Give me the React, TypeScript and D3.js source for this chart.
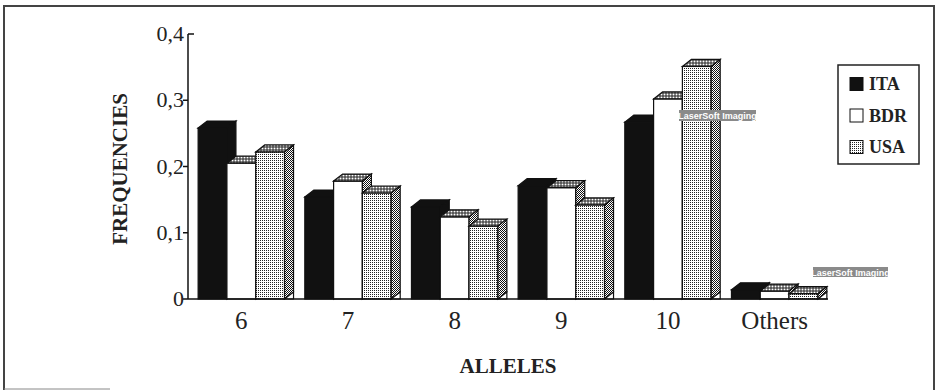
import React from "react";
import * as d3 from "d3";

const categories = ["6", "7", "8", "9", "10", "Others"];
const seriesNames = ["ITA", "BDR", "USA"];
const ITA = [0.258, 0.154, 0.139, 0.171, 0.267, 0.014];
const BDR = [0.205, 0.178, 0.124, 0.168, 0.302, 0.012];
const USA = [0.222, 0.16, 0.11, 0.142, 0.351, 0.008];
const yTicks = [0, 0.1, 0.2, 0.3, 0.4];
const yTickLabels = ["0", "0,1", "0,2", "0,3", "0,4"];

const W = 938;
const H = 392;
const DX = 9;
const DY = 7;
const SERIF = "'Liberation Serif', 'Times New Roman', serif";

export default function App() {
  const x0 = d3
    .scaleBand<string>()
    .domain(categories)
    .range([188, 828])
    .paddingInner(0.19)
    .paddingOuter(0.095);
  const x1 = d3
    .scaleBand<string>()
    .domain(seriesNames)
    .range([0, x0.bandwidth()])
    .padding(0);
  const y = d3.scaleLinear().domain([0, 0.4]).range([299, 34]);
  const data = [ITA, BDR, USA];
  const faces: Record<string, { front: string; top: string; side: string }> = {
    ITA: { front: "#111", top: "#111", side: "#111" },
    BDR: { front: "#fff", top: "url(#dots)", side: "url(#checker)" },
    USA: { front: "url(#fine)", top: "url(#dots)", side: "url(#checker)" },
  };
  const base = y(0);

  const bars: React.ReactNode[] = [];
  categories.forEach((c, ci) => {
    seriesNames.forEach((s, si) => {
      const v = data[si][ci];
      const xl = (x0(c) as number) + (x1(s) as number);
      const xr = xl + x1.bandwidth();
      const yt = y(v);
      const f = faces[s];
      const stroke = "#111";
      bars.push(
        <g key={c + s}>
          <rect x={xl} y={yt} width={xr - xl} height={base - yt} fill={f.front} stroke={stroke} strokeWidth={1.2} />
          <polygon
            points={`${xl},${yt} ${xl + DX},${yt - DY} ${xr + DX},${yt - DY} ${xr},${yt}`}
            fill={f.top}
            stroke={stroke}
            strokeWidth={1.2}
          />
          <polygon
            points={`${xr},${yt} ${xr + DX},${yt - DY} ${xr + DX},${base - DY} ${xr},${base}`}
            fill={f.side}
            stroke={stroke}
            strokeWidth={1.2}
          />
          {si === seriesNames.length - 1 && (
            <polygon
              points={`${xr},${base} ${xr + DX},${base - DY} ${xr + DX},${base}`}
              fill="#fff"
              stroke={stroke}
              strokeWidth={1.2}
            />
          )}
        </g>
      );
    });
  });

  const legendItems = seriesNames.map((s, i) => ({ name: s, fill: faces[s].front, cy: 84 + i * 31.5 }));

  return (
    <svg
      width={W}
      height={H}
      style={{ position: "absolute", left: 0, top: 0, background: "#fff" }}
      fontFamily={SERIF}
    >
      <defs>
        <pattern id="fine" width={2} height={2} patternUnits="userSpaceOnUse">
          <rect width={2} height={2} fill="#fff" />
          <rect width={1} height={1} fill="#222" />
        </pattern>
        <pattern id="dots" width={3} height={3} patternUnits="userSpaceOnUse">
          <rect width={3} height={3} fill="#222" />
          <rect x={0.5} y={0.5} width={2} height={2} fill="#fff" />
        </pattern>
        <pattern id="checker" width={2} height={2} patternUnits="userSpaceOnUse">
          <rect width={2} height={2} fill="#fff" />
          <rect width={1} height={1} fill="#111" />
          <rect x={1} y={1} width={1} height={1} fill="#111" />
        </pattern>
      </defs>

      {/* outer frame */}
      <path d={`M4,390 L4,6 L934,6 L934,390`} fill="none" stroke="#444" strokeWidth={2} />
      <line x1={4} y1={389} x2={110} y2={389} stroke="#888" strokeWidth={1} />

      {bars}

      {/* axes */}
      <line x1={188} y1={y(0.4)} x2={188} y2={base} stroke="#111" strokeWidth={1.5} />
      <line x1={188} y1={base} x2={828} y2={base} stroke="#111" strokeWidth={1.5} />
      {yTicks.map((t, i) => (
        <g key={t}>
          <line x1={i === yTicks.length - 1 ? 188 : 183} y1={y(t)} x2={i === yTicks.length - 1 ? 194 : 188} y2={y(t)} stroke="#111" strokeWidth={1.5} />
          <text x={184} y={y(t) + 7} textAnchor="end" fontSize={22} fill="#222">
            {yTickLabels[i]}
          </text>
        </g>
      ))}
      {categories.map((c) => (
        <text
          key={c}
          x={(x0(c) as number) + x0.bandwidth() / 2}
          y={329}
          textAnchor="middle"
          fontSize={25}
          fill="#222"
        >
          {c}
        </text>
      ))}

      <text
        transform={`translate(127,169) rotate(-90)`}
        textAnchor="middle"
        fontSize={21}
        fontWeight="bold"
        fill="#222"
      >
        FREQUENCIES
      </text>
      <text x={508} y={373} textAnchor="middle" fontSize={21} fontWeight="bold" fill="#222">
        ALLELES
      </text>

      {/* legend */}
      <rect x={838} y={65} width={81} height={99} fill="#fff" stroke="#222" strokeWidth={1.5} />
      {legendItems.map((it) => (
        <g key={it.name}>
          <rect x={850} y={it.cy - 6.5} width={13} height={13} fill={it.fill} stroke="#111" strokeWidth={1} />
          <text x={869} y={it.cy + 6} fontSize={18} fontWeight="bold" fill="#222">
            {it.name}
          </text>
        </g>
      ))}

      {/* scanner watermarks */}
      <rect x={679} y={110} width={77} height={11} fill="#8a8a8a" />
      <text x={717.5} y={119} textAnchor="middle" fontSize={9} fontWeight="bold" fill="#fff" fontFamily="'Liberation Sans Narrow', 'Liberation Sans', sans-serif">
        LaserSoft Imaging
      </text>
      <rect x={813} y={267} width={75} height={10} fill="#8a8a8a" />
      <text x={850.5} y={275.5} textAnchor="middle" fontSize={9} fontWeight="bold" fill="#fff" fontFamily="'Liberation Sans Narrow', 'Liberation Sans', sans-serif">
        LaserSoft Imaging
      </text>
    </svg>
  );
}
